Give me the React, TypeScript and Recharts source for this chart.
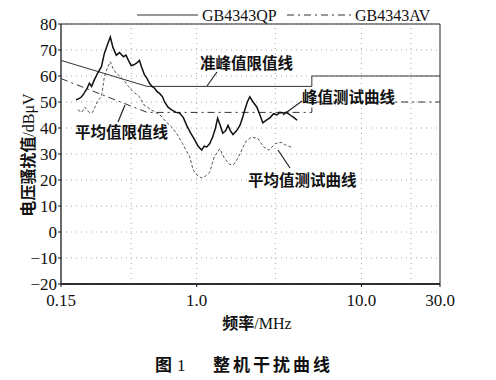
import React from 'react';
import {
  LineChart, Line, XAxis, YAxis, CartesianGrid, ReferenceLine, ReferenceArea,
} from 'recharts';

// GB4343 limit lines (MHz, dBμV)
const qpFreq = [0.15, 0.5, 5, 5, 30];
const qpLevel = [66, 56, 56, 60, 60];
const avFreq = [0.15, 0.5, 5, 5, 30];
const avLevel = [59, 46, 46, 50, 50];

const peakFreq = [
  0.185, 0.194, 0.2, 0.207, 0.215, 0.223, 0.23, 0.239, 0.25, 0.264, 0.275, 0.287, 0.299, 0.31,
  0.325, 0.34, 0.359, 0.372, 0.385, 0.4, 0.413, 0.431, 0.449, 0.462, 0.482, 0.5, 0.517, 0.535,
  0.555, 0.575, 0.595, 0.62, 0.638, 0.67, 0.704, 0.75, 0.787, 0.83, 0.869, 0.92, 0.972, 1.02,
  1.073, 1.11, 1.151, 1.2, 1.25, 1.3, 1.34, 1.39, 1.44, 1.5, 1.55, 1.6, 1.66, 1.75, 1.83, 1.9,
  1.96, 2.03, 2.1, 2.2, 2.32, 2.42, 2.52, 2.65, 2.79, 2.93, 3.07, 3.2, 3.35, 3.5, 3.69, 3.9, 4.07,
];
const peakLevel = [
  50.8, 51.4, 52, 53.3, 55, 57.2, 56, 58.5, 61, 63.6, 68.7, 72, 75, 71,
  68, 69, 67.4, 68, 66, 64, 64.2, 64.9, 66, 63.6, 60.4, 59, 57.2, 56,
  55.3, 54, 53.3, 52, 50, 48, 47, 46, 45.8, 44, 41, 38, 35.4, 33,
  31.5, 33, 32.7, 34, 36.5, 40, 43.8, 41, 38, 39, 41, 39, 37.5, 39, 41, 44,
  47, 50, 52, 50, 48, 45, 42, 43, 44, 45.5, 45, 46, 45.8, 46, 45, 44, 43,
];

// average measurement
const avgFreq = [
  0.19, 0.2, 0.21, 0.222, 0.233, 0.245, 0.255, 0.264, 0.275, 0.287, 0.299, 0.31, 0.325, 0.34,
  0.36, 0.385, 0.41, 0.45, 0.48, 0.53, 0.6, 0.65, 0.714, 0.77, 0.82, 0.87, 0.906, 0.95, 1.0,
  1.07, 1.13, 1.2, 1.28, 1.38, 1.47, 1.58, 1.68, 1.76, 1.83, 1.92, 2.0, 2.15, 2.35, 2.55, 2.75,
  3.0, 3.25, 3.45, 3.8,
];
const avgLevel = [
  47, 46, 48, 46, 46, 49, 51, 52, 59.7, 63, 65.5, 63, 61, 60,
  58.5, 56, 54, 52, 48.8, 47, 45, 42.5, 40, 37, 34, 31, 29, 24, 22,
  20.8, 21.5, 23, 29, 32, 28.5, 26, 26, 28, 30, 33, 35, 36.5, 36, 32.7, 31.5,
  34, 34.5, 33.5, 32.5,
];

const xTicks = [0.15, 1, 10, 30];
const xGrid = [0.4, 1, 3, 10, 20];
const yTicks = [-20, -10, 0, 10, 20, 30, 40, 50, 60, 70, 80];

const zip = (fs: number[], vs: number[]) => fs.map((f, i) => ({ f, v: vs[i] }));
const qpData = zip(qpFreq, qpLevel);
const avData = zip(avFreq, avLevel);
const peakData = zip(peakFreq, peakLevel);
const avgData = zip(avgFreq, avgLevel);

const SERIF = "'Liberation Serif', 'Times New Roman', serif";
const CJK = "'Noto Sans CJK SC', sans-serif";
const tickStyle = { fontSize: 17, fill: '#111', fontFamily: SERIF };

const fmtX = (v: number) => (v === 0.15 ? '0.15' : v.toFixed(1));
const fmtY = (v: number) => (v < 0 ? `\u2212${Math.abs(v)}` : `${v}`);

function Overlay() {
  const ann = { fontFamily: CJK, fontSize: 15.5, fontWeight: 700, fill: '#111' };
  return (
    <svg width={496} height={380} style={{ position: 'absolute', left: 0, top: 0, pointerEvents: 'none' }}>
      {/* legend */}
      <line x1={137} y1={15} x2={198} y2={15} stroke="#333" strokeWidth={1} />
      <text x={202} y={20.5} fontFamily={SERIF} fontSize={16} fill="#111">GB4343QP</text>
      <line x1={287} y1={15} x2={353} y2={15} stroke="#333" strokeWidth={1} strokeDasharray="7 4 2 4" />
      <text x={355} y={20.5} fontFamily={SERIF} fontSize={16} fill="#111">GB4343AV</text>

      {/* annotations */}
      <text x={200} y={69} {...ann}>准峰值限值线</text>
      <line x1={207} y1={86} x2={217} y2={72} stroke="#222" strokeWidth={1.2} />
      <text x={302} y={103} {...ann}>峰值测试曲线</text>
      <line x1={283} y1={115} x2={302} y2={101} stroke="#222" strokeWidth={1.2} />
      <text x={75} y={138} {...ann}>平均值限值线</text>
      <line x1={118} y1={122} x2={125} y2={105} stroke="#222" strokeWidth={1.2} />
      <text x={248} y={186} {...ann}>平均值测试曲线</text>
      <line x1={278} y1={150} x2={290} y2={168} stroke="#222" strokeWidth={1.2} />

      {/* axis titles */}
      <text transform="translate(34,155) rotate(-90)" textAnchor="middle" fontSize={16} fill="#111">
        <tspan fontFamily={CJK} fontWeight={700}>电压骚扰值</tspan>
        <tspan fontFamily={SERIF}>/dBμV</tspan>
      </text>
      <text x={257} y={329} textAnchor="middle" fontSize={16} fill="#111">
        <tspan fontFamily={CJK} fontWeight={700}>频率</tspan>
        <tspan fontFamily={SERIF}>/MHz</tspan>
      </text>

      {/* caption */}
      <text x={155} y={371} fontSize={17} fill="#111">
        <tspan fontFamily={CJK} fontWeight={700}>图</tspan>
        <tspan fontFamily={SERIF} dx={5}>1</tspan>
      </text>
      <text x={213} y={371} fontFamily={CJK} fontWeight={700} fontSize={17} letterSpacing={3} fill="#111">
        整机干扰曲线
      </text>
    </svg>
  );
}

export default function App() {
  return (
    <div style={{ position: 'absolute', left: 0, top: 0, width: 496, height: 380, background: '#fff' }}>
      <LineChart width={496} height={380} margin={{ top: 24, right: 56, bottom: 66, left: 21 }}>
        <CartesianGrid vertical={false} stroke="#aaa" strokeDasharray="1 4" />
        <XAxis
          dataKey="f"
          type="number"
          scale="log"
          domain={[0.15, 30]}
          allowDataOverflow
          ticks={xTicks}
          interval={0}
          tickFormatter={fmtX}
          tick={tickStyle}
          tickSize={3}
          tickMargin={7}
          height={30}
          axisLine={{ stroke: '#111', strokeWidth: 1.5 }}
          tickLine={{ stroke: '#111' }}
        />
        <YAxis
          type="number"
          domain={[-20, 80]}
          ticks={yTicks}
          interval={0}
          tickFormatter={fmtY}
          tick={tickStyle}
          tickSize={3}
          tickMargin={1}
          width={40}
          axisLine={{ stroke: '#444' }}
          tickLine={{ stroke: '#111' }}
        />
        {xGrid.map((x) => (
          <ReferenceLine key={x} x={x} stroke="#aaa" strokeDasharray="1 4" />
        ))}
        <ReferenceArea x1={0.15} x2={30} y1={-20} y2={80} fill="none" stroke="#222" strokeWidth={1} />
        <Line data={qpData} dataKey="v" type="linear" stroke="#333" strokeWidth={1} dot={false} isAnimationActive={false} />
        <Line data={avData} dataKey="v" type="linear" stroke="#333" strokeWidth={1} strokeDasharray="7 4 2 4" dot={false} isAnimationActive={false} />
        <Line data={avgData} dataKey="v" type="linear" stroke="#555" strokeWidth={1} strokeDasharray="3 2" dot={false} isAnimationActive={false} />
        <Line data={peakData} dataKey="v" type="linear" stroke="#111" strokeWidth={1.5} dot={false} isAnimationActive={false} />
      </LineChart>
      <Overlay />
    </div>
  );
}
